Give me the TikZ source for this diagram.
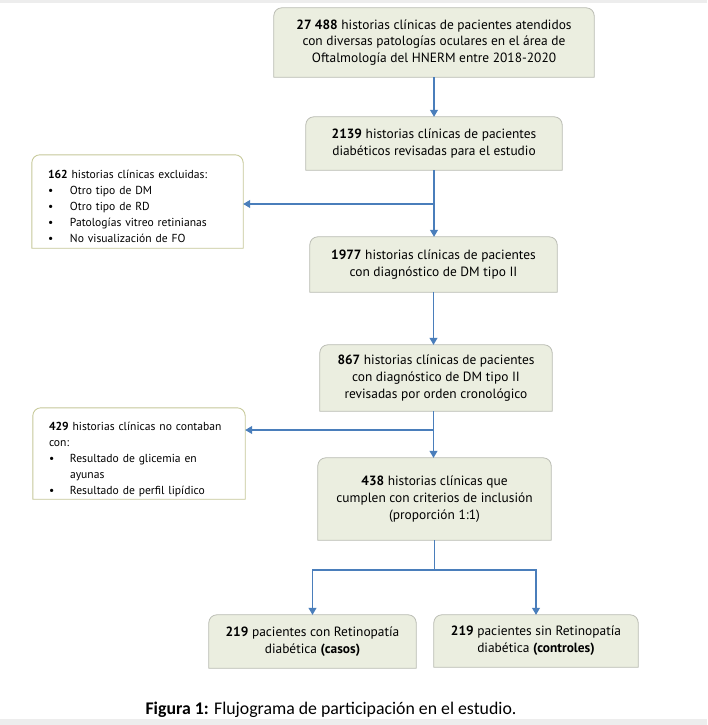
\documentclass[tikz,border=0pt]{standalone}
\usepackage{fontspec}
\setmainfont{PT Sans}
\newfontfamily\capfont{Carlito}
\usetikzlibrary{arrows.meta,backgrounds,calc}
\definecolor{boxfill}{HTML}{EBEEE0}
\definecolor{boxline}{HTML}{BDBFB6}
\definecolor{exline}{HTML}{C9CB9C}
\definecolor{shade}{HTML}{A9A9A9}
\definecolor{arrblue}{HTML}{4A7EBB}
\definecolor{strip}{HTML}{EDEDED}
\newcommand\rtbox[2]{%
  \path[#2] (#1.south west) -- ([yshift=-8pt]#1.north west)
    arc[start angle=180,end angle=90,radius=8pt] -- ([xshift=-8pt]#1.north east)
    arc[start angle=90,end angle=0,radius=8pt] -- (#1.south east) -- cycle;}
\tikzset{
  mainbox/.style={inner sep=0pt, align=center, font=\fontsize{13.4}{16.8}\selectfont},
  exbox/.style={inner xsep=16pt, inner ysep=0pt, align=left, font=\fontsize{11.6}{16}\selectfont},
  arr/.style={draw=arrblue, line width=1.1pt, -{Triangle[length=7pt,width=8pt]}},
  plain/.style={draw=arrblue, line width=1.1pt},
}
\begin{document}
\begin{tikzpicture}[x=1pt,y=1pt]
\useasboundingbox (0,0) rectangle (707,-725);
\fill[strip] (0,0) rectangle (707,-3);
\fill[strip] (0,-719) rectangle (707,-725);

\node[mainbox, minimum width=320pt, minimum height=69pt] (b1) at (434,-42.5)
  {\textbf{27 488} historias clínicas de pacientes atendidos\\con diversas patologías oculares en el área de\\Oftalmología del HNERM entre 2018-2020};
\node[mainbox, minimum width=256pt, minimum height=53pt] (b2) at (434,-143.5)
  {\textbf{2139} historias clínicas de pacientes\\diabéticos revisadas para el estudio};
\node[exbox, text width=179pt, minimum height=93pt] (e1) at (137.5,-201.5)
  {\rule{0pt}{18pt}\textbf{162} historias clínicas excluidas:\\
   \makebox[22pt][l]{•}Otro tipo de DM\\
   \makebox[22pt][l]{•}Otro tipo de RD\\
   \makebox[22pt][l]{•}Patologías vitreo retinianas\\
   \makebox[22pt][l]{•}No visualización de FO};
\node[mainbox, minimum width=247pt, minimum height=55pt] (b3) at (433.5,-264.5)
  {\textbf{1977} historias clínicas de pacientes\\con diagnóstico de DM tipo II};
\node[mainbox, minimum width=232pt, minimum height=66pt] (b4) at (436,-378)
  {\textbf{867} historias clínicas de pacientes\\con diagnóstico de DM tipo II\\revisadas por orden cronológico};
\node[exbox, text width=180pt, minimum height=91pt] (e2) at (139,-453.5)
  {\rule{0pt}{20pt}\textbf{429} historias clínicas no contaban\\con:\\
   \makebox[21pt][l]{•}Resultado de glicemia en\\
   \hspace*{21pt}ayunas\\
   \makebox[21pt][l]{•}Resultado de perfil lipídico};
\node[mainbox, minimum width=233pt, minimum height=82pt] (b5) at (434.5,-499)
  {\textbf{438} historias clínicas que\\cumplen con criterios de inclusión\\(proporción 1:1)};
\node[mainbox, minimum width=207pt, minimum height=53pt] (b6) at (312.5,-641.5)
  {\textbf{219} pacientes con Retinopatía\\diabética \textbf{(casos)}};
\node[mainbox, minimum width=204pt, minimum height=52pt] (b7) at (536,-641)
  {\textbf{219} pacientes sin Retinopatía\\diabética \textbf{(controles)}};

\begin{scope}[on background layer]
  \foreach \n in {b1,b2,b3,b4,b5,b6,b7}{
    \rtbox{\n}{fill=shade, xshift=0.8pt, yshift=-1.5pt}
    \rtbox{\n}{fill=boxfill, draw=boxline, line width=0.8pt}
  }
  \foreach \n in {e1,e2}{
    \rtbox{\n}{fill=shade!70, xshift=0.6pt, yshift=-1.5pt}
    \rtbox{\n}{fill=white, draw=exline, line width=0.9pt}
  }
\end{scope}

\coordinate (j1) at (434,-204);
\coordinate (j2) at (434,-430);
\coordinate (j3) at (434.5,-570);
\draw[arr] (b1.south) -- (b1.south |- b2.north);
\draw[arr] (b2.south) -- (b2.south |- b3.north);
\draw[arr] (j1) -- (j1 -| e1.east);
\draw[arr] (b3.south) -- (b3.south |- b4.north);
\draw[arr] (b4.south -| b3.south) -- (b3.south |- b5.north);
\draw[arr] (j2) -- (j2 -| e2.east);
\draw[plain] (b5.south) -- (j3);
\draw[arr] (j3) -| (b6.north);
\draw[arr] (j3) -| (b7.north);

\node[font=\capfont\fontsize{17.8}{20}\selectfont] (cap) at (331,-710)
  {\textbf{Figura 1:} Flujograma de participación en el estudio.};
\end{tikzpicture}
\end{document}
